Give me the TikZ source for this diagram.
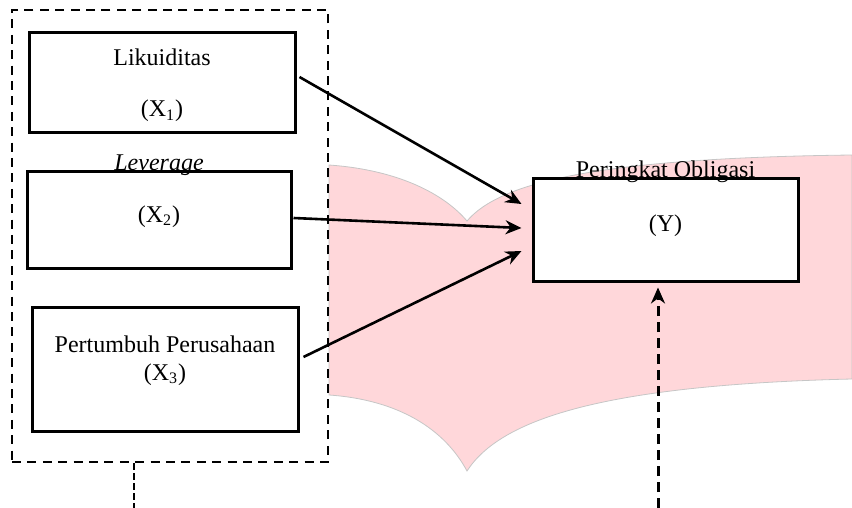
\documentclass[tikz,border=0pt]{standalone}
\usepackage{fontspec}
\setmainfont{Liberation Serif}
\usetikzlibrary{arrows.meta}
\definecolor{wavepink}{RGB}{255,215,218}

\begin{document}
\begin{tikzpicture}[x=0.5pt,y=-0.5pt,>={Stealth[length=8pt,width=7pt]},node distance=68.5pt,
    var node/.style={rectangle,draw,line width=1.5pt,fill=white,align=center,text height=8pt,font=\fontsize{12pt}{14pt}\selectfont},
    top label/.style={anchor=base,inner sep=0pt,font=\fontsize{12pt}{14pt}\selectfont}]
    \useasboundingbox (0,0) rectangle (852,508);
    % wave in the background
    \path[fill=wavepink,draw=gray!45,line width=0.4pt] (329,165) .. controls (400,170) and (445,195) .. (467,221)
        .. controls (500,182) and (600,158) .. (852,155) -- (852,379)
        .. controls (600,385) and (500,420) .. (467,471)
        .. controls (445,430) and (400,400) .. (329,395) -- cycle;

    \node [rectangle, draw, line width=1.4pt, dash pattern=on 4.5pt off 3.2pt, minimum width=158pt, minimum height=226pt](5) at (170,236){};

    \node [var node, minimum width=133pt, minimum height=50pt, text height=34.5pt, text depth=0.5pt](1) at (162,83){Likuiditas\\[11.5pt](X\textsubscript{1})};
    \node [var node, minimum width=132pt, minimum height=48pt, text depth=6pt, label={[top label]north:\textit{Leverage}}](2) [below of=1, xshift=-1.5pt]{(X\textsubscript{2})};
    \node [var node, minimum width=133pt, minimum height=62pt, text height=22pt, text depth=11pt](3) [below of=2, xshift=3pt, yshift=-6pt]{Pertumbuh Perusahaan\\(X\textsubscript{3})};
    \node [var node, minimum width=132.5pt, minimum height=51pt, text depth=6pt, label={[top label]north:Peringkat Obligasi}](4) [right of=2, xshift=184.75pt, yshift=-5pt]{(Y)};

    \coordinate (6) at (658,508);
    \coordinate (7) at (134,508);

    \path[->, line width=1.3pt]
        ([xshift=1.5pt,yshift=3pt]1.east) edge ([xshift=-5pt,yshift=13pt]4.west)
        ([xshift=0.5pt,yshift=1pt]2.east) edge ([xshift=-5pt,yshift=1pt]4.west)
        ([xshift=2pt,yshift=6pt]3.east) edge ([xshift=-5pt,yshift=-10.5pt]4.west)
        ;
    \draw[->, line width=1.5pt, dash pattern=on 5pt off 3pt] (6) -- ([xshift=-3.75pt,yshift=-2.5pt]4.south);
    \draw[line width=0.6pt, dash pattern=on 3.3pt off 1.7pt] ([xshift=-18pt]5.south) -- (7);
\end{tikzpicture}
\end{document}
